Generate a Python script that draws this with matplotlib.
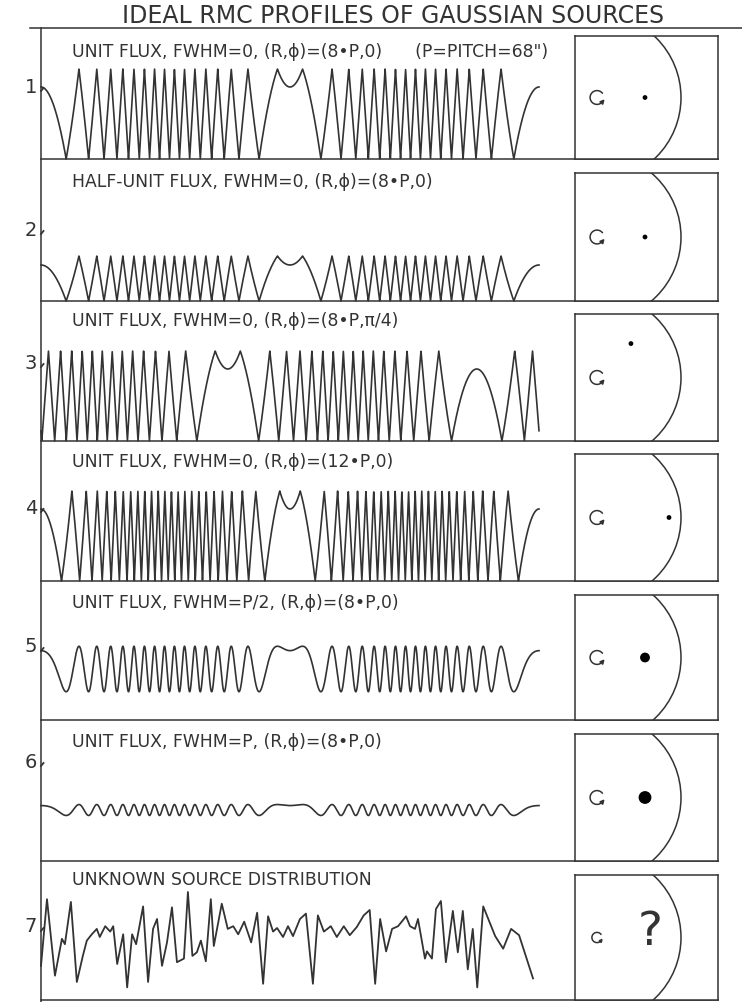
"""
Ideal RMC (rotation modulation collimator) profiles for Gaussian sources.
Each row: modulation profile over one rotation + a sketch of the source
position inside the field of view.
"""

import numpy as np
import matplotlib.pyplot as plt
from matplotlib.patches import Arc, Circle, Polygon

W, H = 742, 1003
INK = '#333333'
plt.rcParams['font.family'] = ['DejaVu Sans']

# --- source parameters for rows 1-6 (radius / fwhm in units of the pitch P) ---
flux = [1.0, 0.5, 1.0, 1.0, 1.0, 1.0]
fwhm = [0.0, 0.0, 0.0, 0.0, 0.5, 1.0]
radius = [8, 8, 8, 12, 8, 8]
phi = [0.0, 0.0, np.pi / 4, 0.0, 0.0, 0.0]

captions = [
    'UNIT FLUX, FWHM=0, (R,ϕ)=(8•P,0)      (P=PITCH=68")',
    'HALF-UNIT FLUX, FWHM=0, (R,ϕ)=(8•P,0)',
    'UNIT FLUX, FWHM=0, (R,ϕ)=(8•P,π/4)',
    'UNIT FLUX, FWHM=0, (R,ϕ)=(12•P,0)',
    'UNIT FLUX, FWHM=P/2, (R,ϕ)=(8•P,0)',
    'UNIT FLUX, FWHM=P, (R,ϕ)=(8•P,0)',
    'UNKNOWN SOURCE DISTRIBUTION',
]

# row 7: measured profile of the unknown distribution (turn fraction, flux)
unknown_turn = [
    0.000, 0.012, 0.028, 0.042, 0.048, 0.060, 0.072, 0.084, 0.092, 0.102,
    0.112, 0.118, 0.129, 0.139, 0.145, 0.153, 0.165, 0.173, 0.183, 0.191,
    0.205, 0.215, 0.225, 0.233, 0.243, 0.253, 0.263, 0.273, 0.287, 0.295,
    0.304, 0.313, 0.321, 0.331, 0.341, 0.347, 0.363, 0.375, 0.386, 0.396,
    0.408, 0.422, 0.434, 0.446, 0.456, 0.466, 0.474, 0.486, 0.496, 0.506,
    0.520, 0.532, 0.546, 0.556, 0.568, 0.582, 0.594, 0.608, 0.620, 0.634,
    0.648, 0.660, 0.671, 0.681, 0.693, 0.705, 0.717, 0.733, 0.741, 0.751,
    0.757, 0.771, 0.775, 0.785, 0.793, 0.803, 0.813, 0.827, 0.837, 0.847,
    0.857, 0.867, 0.876, 0.888, 0.912, 0.928, 0.944, 0.960, 0.988,
]
unknown_flux = [
    0.38, 1.12, 0.27, 0.68, 0.62, 1.09, 0.20, 0.49, 0.66, 0.73,
    0.79, 0.70, 0.82, 0.76, 0.82, 0.40, 0.73, 0.14, 0.73, 0.62,
    1.04, 0.20, 0.79, 0.90, 0.38, 0.64, 1.03, 0.42, 0.46, 1.20,
    0.49, 0.53, 0.66, 0.43, 1.12, 0.60, 1.07, 0.79, 0.82, 0.73,
    0.87, 0.64, 0.97, 0.18, 0.93, 0.76, 0.80, 0.70, 0.82, 0.71,
    0.90, 0.96, 0.18, 0.94, 0.76, 0.82, 0.70, 0.82, 0.72, 0.81,
    0.94, 1.00, 0.18, 0.90, 0.54, 0.79, 0.82, 0.93, 0.82, 0.79,
    0.90, 0.46, 0.54, 0.46, 1.01, 1.10, 0.42, 0.99, 0.53, 0.99,
    0.34, 0.79, 0.14, 1.04, 0.71, 0.57, 0.79, 0.72, 0.24,
]

GRID_PHASE = 0.1        # grid offset, cycles
SIGMA_PER_FWHM = 0.31   # Gaussian blur width used for the profile
N_HARM = 41


def rmc_profile(theta, flux, fwhm, r, phi):
    """Triangular RMC response of a Gaussian source, over rotation angle theta."""
    phase = r * np.cos(theta + phi) - GRID_PHASE
    if fwhm == 0:
        d = np.abs(phase - np.round(phase))
        return flux * (1 - 2 * d)
    sigma = fwhm * SIGMA_PER_FWHM
    prof = np.full_like(theta, 0.5)
    for n in range(1, N_HARM + 1, 2):
        damp = np.exp(-2 * (np.pi * n * sigma) ** 2)
        prof += 4 / (np.pi * n) ** 2 * damp * np.cos(2 * np.pi * n * phase)
    return flux * prof


# --- layout (pixels) ---
sep_y = [29, 160, 302, 442, 582, 721, 862, 1001]
box_top = [37, 174, 315, 455, 596, 735, 876]
caption_y = [52, 182, 321, 462, 603, 742, 880]
number_y = [87, 230, 363, 508, 647, 762, 927]
curve_lift = [0, 0, 0, 0, 6, 6, 0]   # zero level of each profile above its row line
curve_x0, curve_x1 = 41, 539
unit_px = 90
box_x0, box_x1 = 575, 718
axis_px = 597          # rotation axis inside the sketch boxes
pitch_px = 6.0

fig = plt.figure(figsize=(W / 100, H / 100), dpi=100)
frame = fig.add_axes([0, 0, 1, 1])
frame.set_xlim(0, W)
frame.set_ylim(H, 0)
frame.axis('off')

frame.text(393, 16, 'IDEAL RMC PROFILES OF GAUSSIAN SOURCES', ha='center',
           va='center', fontsize=17, color=INK)
frame.plot([30, W], [sep_y[0]] * 2, color=INK, lw=1.1)
frame.plot([curve_x0, curve_x0], [sep_y[0], H], color=INK, lw=1.1)
for y in sep_y[1:]:
    frame.plot([curve_x0, box_x1], [y, y], color=INK, lw=1.1)

theta = np.linspace(0, 2 * np.pi, 6000)

for i in range(7):
    base = sep_y[i + 1]
    frame.text(72, caption_y[i], captions[i], ha='left', va='center',
               fontsize=12.4, color=INK)
    frame.text(37, number_y[i], str(i + 1), ha='right', va='center',
               fontsize=14, color=INK)
    frame.plot([curve_x0, curve_x0 + 2.5], [number_y[i] + 5, number_y[i] + 2],
               color=INK, lw=1.3)

    # profile
    zero = base - curve_lift[i]
    ax = fig.add_axes([curve_x0 / W, 1 - zero / H,
                       (curve_x1 - curve_x0) / W, unit_px / H])
    ax.set_xlim(0, 2 * np.pi)
    ax.set_ylim(0, 1)
    ax.axis('off')
    if i < 6:
        y = rmc_profile(theta, flux[i], fwhm[i], radius[i], phi[i])
        ax.plot(theta, y, color=INK, lw=1.2, clip_on=False)
    else:
        ax.plot(np.array(unknown_turn) * 2 * np.pi, unknown_flux,
                color=INK, lw=1.3, clip_on=False, solid_joinstyle='round')

    # source sketch
    top = box_top[i]
    bx = fig.add_axes([box_x0 / W, 1 - base / H,
                       (box_x1 - box_x0) / W, (base - top) / H])
    half = (base - top) / 2 / pitch_px
    bx.set_xlim((box_x0 - axis_px) / pitch_px, (box_x1 - axis_px) / pitch_px)
    bx.set_ylim(-half, half)
    bx.set_xticks([])
    bx.set_yticks([])
    for s in bx.spines.values():
        s.set_color(INK)
        s.set_linewidth(1.1)
    bx.add_patch(Arc((0, 0), 28, 28, theta1=-90, theta2=90, color=INK, lw=1.1))

    # rotation sign
    rr = 1.15 if i < 6 else 0.85
    t = np.radians(np.linspace(40, 320, 60))
    bx.plot(rr * np.cos(t), rr * np.sin(t), color=INK, lw=1.1)
    te = np.radians(320)
    tip = np.array([rr * np.cos(te), rr * np.sin(te)])
    tang = np.array([-np.sin(te), np.cos(te)])
    norm = np.array([np.cos(te), np.sin(te)])
    hl = 0.55 * rr
    bx.add_patch(Polygon([tip + tang * hl * 0.6,
                          tip - tang * hl * 0.4 + norm * hl * 0.5,
                          tip - tang * hl * 0.4 - norm * hl * 0.5],
                         closed=True, color=INK))

    if i < 6:
        dot_r = 0.28 if fwhm[i] == 0 else 0.45 + 0.5 * fwhm[i]
        bx.add_patch(Circle((radius[i] * np.cos(phi[i]), radius[i] * np.sin(phi[i])),
                            dot_r, color='black'))
    else:
        bx.text(8.8, 1.0, '?', ha='center', va='center', fontsize=34, color=INK)

fig.savefig('out.png', dpi=100)
